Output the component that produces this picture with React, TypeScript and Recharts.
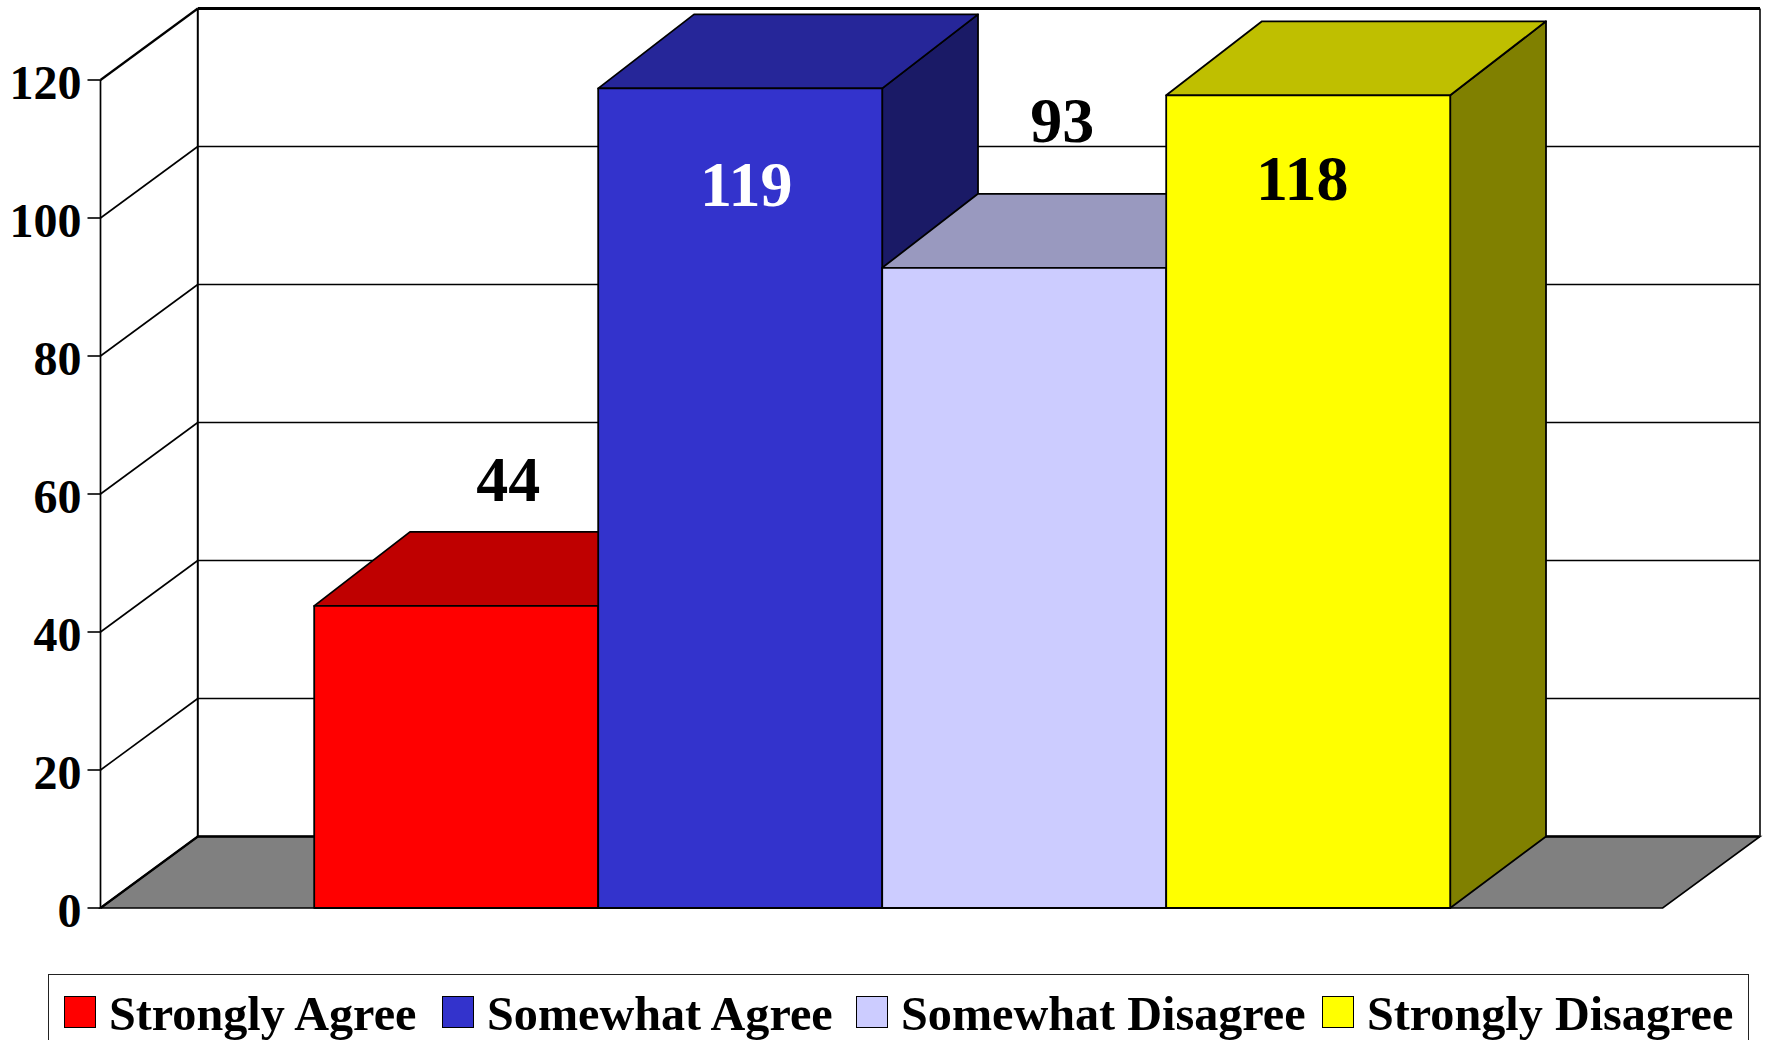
import React from "react";
import { BarChart, Bar, XAxis, YAxis, CartesianGrid, Legend, LabelList } from "recharts";

const seriesNames = ["Strongly Agree", "Somewhat Agree", "Somewhat Disagree", "Strongly Disagree"];
const seriesValues = [44, 119, 93, 118];
const yTicks = [0, 20, 40, 60, 80, 100, 120];
const frontFills = ["#FF0000", "#3333CC", "#CCCCFF", "#FFFF00"];
const topFills = ["#BF0000", "#262699", "#9999BF", "#BFBF00"];
const sideFills = ["#800000", "#1A1A66", "#666680", "#808000"];
const labelFills = ["#000000", "#FFFFFF", "#000000", "#000000"];
const labelDx = [53, 7, 39, -5];
const labelDy = [-103, 119, -124, 106];
const legendLefts = [15, 393, 807, 1273];

const row: Record<string, number | string> = { group: "" };
seriesNames.forEach((n, i) => {
  row[n] = seriesValues[i];
});
const data = [row];

const W = 1766;
const H = 1040;
const SERIF = "'Liberation Serif', 'Times New Roman', serif";
const M = { top: 80, right: 103.3, bottom: 132, left: 0 };
const AXIS_W = 100.5;
const DX = 97.3;
const DY = 71.5;
const BAR_DX = 95.8;
const BAR_DY_TOP = 74;
const PLOT_BOTTOM = H - M.bottom;
const BAR_NUDGE_X = 1;
const BAR_NUDGE_TOP = 1.5;

const gridLine = (p: any) => {
  const { x1, x2, y1, index } = p;
  const isBottom = Math.abs(y1 - PLOT_BOTTOM) < 1;
  const isTop = Math.abs(y1 - M.top) < 1;
  const by = y1 - DY;
  const bx1 = x1 + DX;
  const bx2 = x2 + DX;
  return (
    <g key={`wall-${index}`}>
      {isBottom && (
        <polygon
          points={`${x1},${y1} ${bx1},${by} ${bx2},${by} ${x2},${y1}`}
          fill="#808080"
          stroke="#000"
          strokeWidth={1.6}
        />
      )}
      {isTop && (
        <>
          <line x1={bx1} y1={by} x2={bx1} y2={PLOT_BOTTOM - DY} stroke="#000" strokeWidth={2} />
          <line x1={bx2} y1={by} x2={bx2} y2={PLOT_BOTTOM - DY} stroke="#222" strokeWidth={1.8} />
        </>
      )}
      <line x1={bx1} y1={by} x2={bx2} y2={by} stroke="#000" strokeWidth={isTop ? 2.8 : isBottom ? 2.6 : 1.7} />
      <line x1={x1} y1={y1} x2={bx1} y2={by} stroke="#000" strokeWidth={isTop || isBottom ? 2.2 : 1.6} />
    </g>
  );
};

const makeShape = (i: number) => (p: any) => {
  const { width } = p;
  const x = p.x + BAR_NUDGE_X;
  const y = p.y + BAR_NUDGE_TOP;
  const height = p.height - BAR_NUDGE_TOP;
  const r = x + width;
  const b = y + height;
  const backTop = y - BAR_DY_TOP;
  const common = { stroke: "#000", strokeWidth: 1.8, strokeLinejoin: "round" as const };
  return (
    <g>
      <polygon points={`${r},${y} ${r + BAR_DX},${backTop} ${r + BAR_DX},${b - DY} ${r},${b}`} fill={sideFills[i]} {...common} />
      <polygon points={`${x},${y} ${x + BAR_DX},${backTop} ${r + BAR_DX},${backTop} ${r},${y}`} fill={topFills[i]} {...common} />
      <rect x={x} y={y} width={width} height={height} fill={frontFills[i]} {...common} />
    </g>
  );
};

const makeLabel = (i: number) => (p: any) => {
  const { x, y, width, value } = p;
  return (
    <text
      x={x + width / 2 + labelDx[i]}
      y={y + labelDy[i]}
      textAnchor="middle"
      fontFamily={SERIF}
      fontWeight="bold"
      fontSize={64}
      fill={labelFills[i]}
    >
      {value}
    </text>
  );
};

const LegendBox = (p: any) => (
  <div
    style={{
      boxSizing: "border-box",
      width: 1701,
      height: 90,
      border: "1.8px solid #222",
      background: "#fff",
      fontFamily: SERIF,
      fontWeight: "bold",
      fontSize: 48.2,
      lineHeight: "50px",
      color: "#000",
      position: "relative",
    }}
  >
    {p.payload.map((e: any, i: number) => (
      <span key={e.value} style={{ position: "absolute", top: 20, left: legendLefts[i], display: "flex", whiteSpace: "nowrap" }}>
        <span
          style={{
            boxSizing: "border-box",
            display: "inline-block",
            width: 32,
            height: 32,
            marginTop: 1,
            marginRight: 13,
            background: e.color,
            border: "1.8px solid #000",
          }}
        />
        <span style={{ marginTop: -6 }}>{e.value}</span>
      </span>
    ))}
  </div>
);

export default function App() {
  return (
    <div style={{ position: "absolute", left: 0, top: 0, width: W, height: H, overflow: "hidden", background: "#fff" }}>
      <BarChart width={W} height={H} data={data} margin={M} barGap={0} barCategoryGap={212.7}>
        <CartesianGrid horizontal={gridLine as any} vertical={false} />
        <XAxis dataKey="group" tick={false} tickLine={false} height={0} axisLine={{ stroke: "#000", strokeWidth: 1.6 }} />
        <YAxis
          width={AXIS_W}
          domain={[0, 120]}
          ticks={yTicks}
          interval={0}
          tickSize={13}
          tickMargin={6}
          axisLine={{ stroke: "#000", strokeWidth: 1.7 }}
          tickLine={{ stroke: "#000", strokeWidth: 1.6 }}
          tick={{ fontFamily: SERIF, fontWeight: "bold", fontSize: 48, fill: "#000", dy: 2 }}
        />
        <Legend
          layout="horizontal"
          align="center"
          verticalAlign="middle"
          itemSorter={null as any}
          wrapperStyle={{ left: 48, top: 974, bottom: "auto", width: 1701 }}
          content={LegendBox as any}
        />
        {seriesNames.map((n, i) => (
          <Bar key={n} dataKey={n} name={n} fill={frontFills[i]} isAnimationActive={false} shape={makeShape(i) as any}>
            <LabelList dataKey={n} content={makeLabel(i) as any} />
          </Bar>
        ))}
      </BarChart>
    </div>
  );
}
